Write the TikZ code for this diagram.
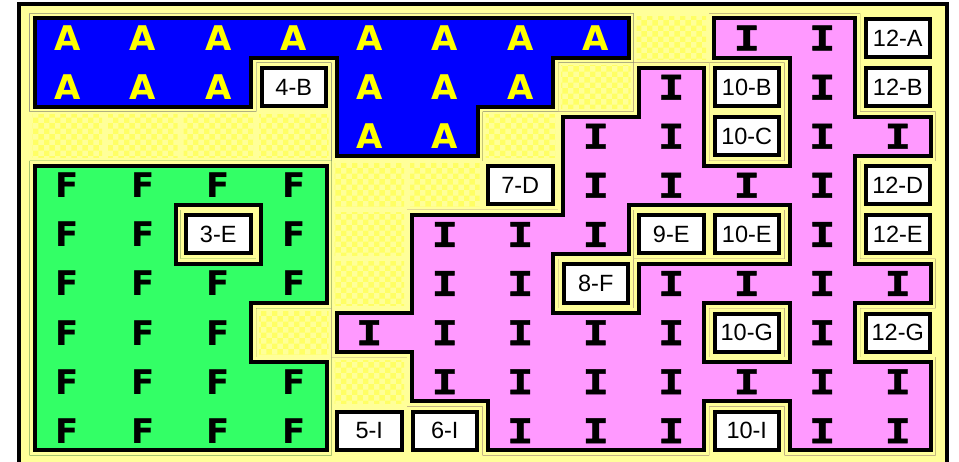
\documentclass[tikz,border=0pt]{standalone}
\usepackage{fontspec}
\setmainfont{Liberation Sans}
\newfontfamily\blockfont{DejaVu Sans}
\newfontfamily\beamfont{DejaVu Sans Mono}[FakeStretch=1.3,FakeBold=1.5]
\usetikzlibrary{patterns}

\definecolor{paper}{RGB}{255,255,153}
\definecolor{dither}{RGB}{255,255,100}
\definecolor{seablue}{RGB}{0,0,255}
\definecolor{fieldgreen}{RGB}{51,255,102}
\definecolor{townpink}{RGB}{255,153,255}
\definecolor{signyellow}{RGB}{255,255,0}

\newcommand{\zone}[2]{%
  \begin{scope}
    \clip #2;
    \fill[#1] #2;
    \draw[line width=14pt] #2;
    \draw[paper,line width=6pt] #2;
  \end{scope}}

\tikzset{
  glyphA/.style={text=signyellow,font=\blockfont\bfseries\fontsize{34}{34}\selectfont},
  glyphF/.style={font=\blockfont\bfseries\fontsize{34}{34}\selectfont},
  glyphI/.style={font=\beamfont\bfseries\fontsize{34}{34}\selectfont},
  tag/.style={draw,line width=4pt,fill=white,inner sep=0pt,
    minimum width=64.5pt,minimum height=38.1pt,font=\fontsize{23.5}{24}\selectfont},
  spare/.style={pattern=checkerboard,pattern color=dither},
}

\begin{document}
\begin{tikzpicture}[x=75.5pt,y=-49.1pt]
  \useasboundingbox (-29.5pt,13.5pt) rectangle (929.5pt,-448.5pt);
  \fill[white] (-29.5pt,13.5pt) rectangle (929.5pt,-448.5pt);
  \draw[line width=4pt,fill=paper] (-10.5pt,9.5pt) rectangle (917.5pt,-452.5pt);

  % empty squares
  \foreach \c/\r in {8/0,7/1,0/2,1/2,2/2,3/2,6/2,4/3,5/3,4/4,4/5,3/6,4/7}
    \fill[spare] ([shift={(3pt,-3pt)}]\c,\r) rectangle ([shift={(-3pt,3pt)}]\c+1,\r+1);

  \zone{seablue}{(0,0)--(8,0)--(8,1)--(7,1)--(7,2)--(6,2)--(6,3)--(4,3)--(4,1)--(3,1)--(3,2)--(0,2)--cycle}
  \zone{fieldgreen}{(0,3)--(4,3)--(4,6)--(3,6)--(3,7)--(4,7)--(4,9)--(0,9)--cycle
    (2,4)--(2,5)--(3,5)--(3,4)--cycle}
  \zone{townpink}{(9,0)--(11,0)--(11,2)--(12,2)--(12,3)--(11,3)--(11,5)--(12,5)--(12,6)--(11,6)--(11,7)--(12,7)--(12,9)--(10,9)--(10,8)--(9,8)--(9,9)--(6,9)--(6,8)--(5,8)--(5,7)--(4,7)--(4,6)--(5,6)--(5,4)--(7,4)--(7,2)--(8,2)--(8,1)--(9,1)--cycle
    (9,1)--(9,3)--(10,3)--(10,1)--cycle
    (8,4)--(8,5)--(10,5)--(10,4)--cycle
    (7,5)--(7,6)--(8,6)--(8,5)--cycle
    (9,6)--(9,7)--(10,7)--(10,6)--cycle}

  \foreach \r/\cols in {0/{0,...,7},1/{0,1,2,4,5,6},2/{4,5}}
    \foreach \c in \cols
      \node[glyphA] (a-\c-\r) at (\c+.5,\r+.5) {A};
  \foreach \r/\cols in {3/{0,...,3},4/{0,1,3},5/{0,...,3},6/{0,1,2},7/{0,...,3},8/{0,...,3}}
    \foreach \c in \cols
      \node[glyphF] (f-\c-\r) at (\c+.5,\r+.5) {F};
  \foreach \r/\cols in {0/{9,10},1/{8,10},2/{7,8,10,11},3/{7,...,10},4/{5,6,7,10},5/{5,6,8,9,10,11},6/{4,...,8,10},7/{5,...,11},8/{6,7,8,10,11}}
    \foreach \c in \cols
      \node[glyphI] (i-\c-\r) at (\c+.5,\r+.5) {I};

  \foreach \c/\r/\txt in {11/0/12-A,3/1/4-B,9/1/10-B,11/1/12-B,9/2/10-C,6/3/7-D,11/3/12-D,
      2/4/3-E,8/4/9-E,9/4/10-E,11/4/12-E,7/5/8-F,9/6/10-G,11/6/12-G,4/8/5-I,5/8/6-I,9/8/10-I}
    \node[tag] (t-\c-\r) at (\c+.5,\r+.5) {\txt};
\end{tikzpicture}
\end{document}
